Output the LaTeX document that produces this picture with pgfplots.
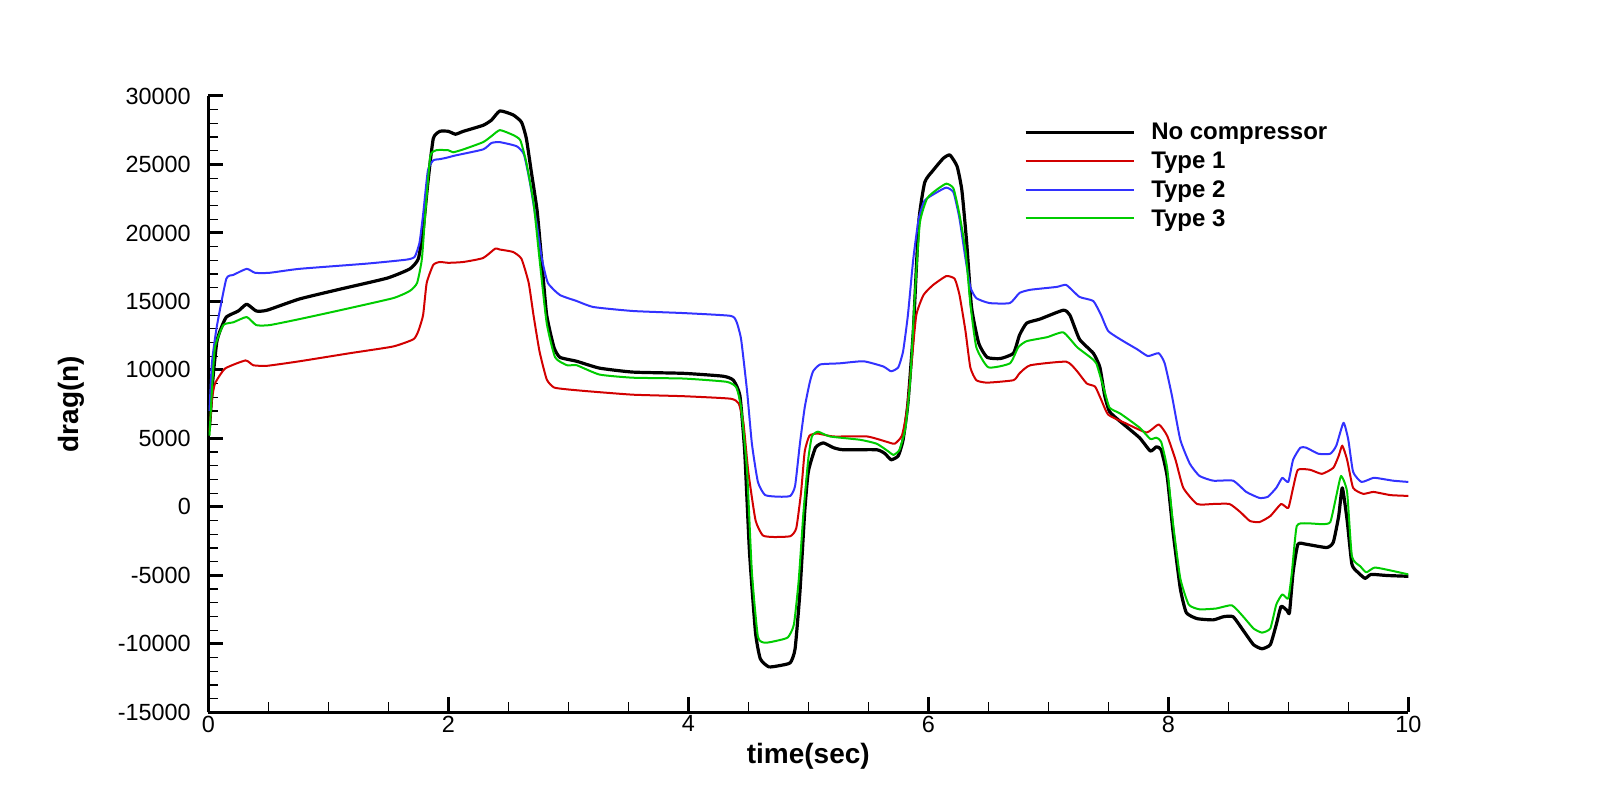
\documentclass[border=0pt]{standalone}
\usepackage{fontspec}
\setmainfont{Liberation Sans}
\usepackage{pgfplots}
\pgfplotsset{compat=1.18}
\definecolor{cred}{RGB}{210,0,0}
\definecolor{cblue}{RGB}{50,50,255}
\definecolor{cgreen}{RGB}{0,204,0}
\begin{document}
\begin{tikzpicture}
\path[use as bounding box] (-208.3pt,-88.7pt) rectangle (1392.7pt,712.3pt);
\begin{axis}[
  at={(0pt,0pt)}, anchor=south west,
  scale only axis, width=1200pt, height=616.3pt,
  xmin=0, xmax=10, ymin=-15000, ymax=30000,
  axis x line*=bottom, axis y line*=left,
  axis line style={line width=3pt},
  xtick={0,2,...,10}, ytick={-15000,-10000,...,30000},
  minor x tick num=3, minor y tick num=4,
  tick align=inside,
  major tick length=15pt, minor tick length=10pt,
  major tick style={line width=3pt, black},
  minor tick style={line width=1.2pt, black},
  scaled y ticks=false,
  /pgf/number format/1000 sep={},
  /pgf/number format/assume math mode=true,
  ticklabel style={font=\fontsize{23.4pt}{28pt}\selectfont},
  yticklabel style={xshift=-14pt},
  xlabel={time(sec)}, ylabel={drag(n)},
  xlabel style={font=\bfseries\fontsize{28pt}{34pt}\selectfont, at={(axis description cs:0.5,-0.0828)}, anchor=base},
  ylabel style={font=\bfseries\fontsize{28pt}{34pt}\selectfont, at={(axis description cs:-0.1083,0.5)}, anchor=base},
  legend style={draw=none, fill=none, at={(axis description cs:0.6798,0.9606)}, anchor=north west,
    inner sep=0pt, outer sep=0pt, row sep=4.6pt, column sep=13pt,
    font=\bfseries\fontsize{24pt}{28pt}\selectfont,
    nodes={inner sep=3pt}},
  legend cell align=left,
  legend image code/.code={\draw[#1] (0pt,0pt) -- (108pt,0pt);},
  line join=round,
  every axis plot/.append style={smooth, tension=0.3},
]
\addplot[black, line width=3.2pt] coordinates {
(0.01,5800)(0.04,9500)(0.07,12000)(0.097,12830)(0.15,13860)(0.25,14300)(0.32,14800)(0.40,14300)(0.49,14360)
(0.76,15180)(1.10,15900)(1.49,16700)(1.68,17380)(1.75,18110)(1.79,20170)(1.83,23690)(1.875,26900)
(1.93,27420)(2.0,27420)(2.06,27210)(2.125,27420)(2.29,27860)(2.36,28240)(2.43,28910)(2.54,28620)
(2.61,28090)(2.65,26920)(2.69,24570)(2.74,21630)(2.78,17820)(2.82,14000)(2.88,11660)(2.93,10920)
(3.07,10630)(3.26,10130)(3.54,9840)(3.96,9750)(4.29,9540)(4.375,9250)(4.43,8130)(4.47,4030)
(4.51,-3310)(4.56,-9180)(4.60,-11090)(4.67,-11680)(4.76,-11590)(4.85,-11380)(4.89,-10360)(4.93,-6250)
(4.97,-380)(5.0,2560)(5.06,4320)(5.125,4670)(5.21,4320)(5.29,4170)(5.57,4170)(5.64,3880)(5.69,3440)
(5.75,3730)(5.79,4900)(5.83,7540)(5.875,12830)(5.92,20750)(5.97,23690)(6.04,24570)(6.125,25450)
(6.18,25690)(6.24,24860)(6.28,23100)(6.32,19290)(6.36,14590)(6.42,11950)(6.49,10920)(6.60,10830)
(6.71,11220)(6.76,12540)(6.82,13420)(6.93,13710)(7.125,14360)(7.18,14000)(7.26,12240)(7.375,11220)
(7.43,10190)(7.47,8130)(7.51,6960)(7.6,6230)(7.76,5050)(7.85,4080)(7.90,4380)(7.94,4170)(7.99,2260)
(8.04,-1850)(8.10,-5960)(8.15,-7720)(8.24,-8160)(8.375,-8250)(8.46,-8020)(8.54,-8020)(8.625,-9030)
(8.71,-10060)(8.78,-10360)(8.85,-10060)(8.90,-8590)(8.94,-7270)(8.99,-7570)(9.01,-7720)(9.04,-4780)
(9.08,-2730)(9.15,-2730)(9.32,-2970)(9.375,-2580)(9.42,-670)(9.45,1390)(9.49,-960)(9.53,-4190)
(9.58,-4780)(9.64,-5220)(9.69,-4930)(9.82,-5010)(10,-5070)
};
\addlegendentry{No compressor}
\addplot[cred, line width=2pt] coordinates {
(0.01,5500)(0.03,7800)(0.056,9010)(0.14,10100)(0.31,10690)(0.375,10340)(0.49,10300)(0.76,10630)
(1.18,11220)(1.54,11710)(1.71,12240)(1.75,12830)(1.79,14000)(1.82,16350)(1.875,17670)(1.93,17880)
(2.0,17820)(2.125,17880)(2.29,18170)(2.39,18850)(2.43,18790)(2.54,18610)(2.61,18110)(2.67,16350)
(2.71,14000)(2.76,11360)(2.82,9310)(2.88,8720)(2.99,8580)(3.18,8430)(3.54,8190)(3.96,8080)(4.35,7900)
(4.42,7550)(4.46,6080)(4.50,2560)(4.56,-970)(4.62,-2080)(4.71,-2200)(4.85,-2140)(4.90,-1550)
(4.94,1090)(4.97,4030)(5.01,5200)(5.08,5350)(5.21,5140)(5.49,5140)(5.65,4760)(5.72,4610)(5.78,5200)
(5.82,6960)(5.86,10480)(5.90,14000)(5.96,15470)(6.04,16200)(6.15,16850)(6.22,16650)(6.26,15470)
(6.31,12830)(6.35,10190)(6.40,9250)(6.49,9070)(6.71,9250)(6.76,9750)(6.85,10340)(7.15,10600)
(7.24,9900)(7.32,9010)(7.39,8780)(7.44,7840)(7.5,6730)(7.65,6080)(7.82,5430)(7.92,6020)(7.99,5200)
(8.06,3440)(8.125,1390)(8.24,210)(8.375,210)(8.51,210)(8.60,-380)(8.68,-1030)(8.76,-1110)(8.85,-670)
(8.94,210)(9.0,-80)(9.04,1390)(9.08,2710)(9.18,2710)(9.28,2410)(9.375,2850)(9.42,3730)(9.45,4470)
(9.49,3440)(9.54,1390)(9.625,950)(9.71,1090)(9.85,860)(10,800)
};
\addlegendentry{Type 1}
\addplot[cblue, line width=2pt] coordinates {
(0.01,7000)(0.03,10500)(0.07,13120)(0.15,16650)(0.21,16940)(0.32,17380)(0.39,17090)(0.51,17090)
(0.76,17380)(1.32,17760)(1.65,18050)(1.72,18260)(1.76,19290)(1.79,21340)(1.83,24570)(1.875,25300)
(1.93,25390)(1.99,25500)(2.06,25660)(2.29,26100)(2.36,26570)(2.43,26630)(2.57,26330)(2.63,25740)
(2.68,23690)(2.74,20460)(2.78,18110)(2.83,16350)(2.93,15470)(3.07,15030)(3.21,14590)(3.54,14300)
(3.96,14150)(4.35,13950)(4.40,13560)(4.44,12240)(4.49,8430)(4.53,4610)(4.58,1820)(4.64,860)
(4.76,740)(4.85,800)(4.89,1530)(4.93,4610)(4.97,7250)(5.01,9010)(5.04,9900)(5.10,10400)(5.26,10480)
(5.46,10630)(5.625,10250)(5.69,9900)(5.75,10190)(5.79,11360)(5.83,14000)(5.875,18110)(5.92,21040)
(5.97,22370)(6.07,22960)(6.15,23310)(6.21,22960)(6.26,21040)(6.31,18110)(6.35,16060)(6.40,15240)
(6.51,14880)(6.68,14880)(6.76,15620)(6.85,15850)(7.07,16060)(7.15,16200)(7.26,15330)(7.375,15030)
(7.44,14000)(7.5,12830)(7.625,12100)(7.74,11510)(7.83,11010)(7.92,11220)(7.97,10480)(8.03,8130)
(8.10,4900)(8.18,3140)(8.26,2260)(8.375,1910)(8.54,1910)(8.65,1090)(8.76,650)(8.83,740)(8.90,1390)
(8.95,2120)(9.0,1820)(9.04,3440)(9.10,4320)(9.15,4320)(9.25,3880)(9.35,3880)(9.40,4470)(9.46,6140)
(9.5,4900)(9.54,2560)(9.61,1820)(9.71,2120)(9.79,2030)(9.875,1910)(10,1820)
};
\addlegendentry{Type 2}
\addplot[cgreen, line width=2pt] coordinates {
(0.01,5200)(0.03,8500)(0.056,11660)(0.125,13270)(0.21,13480)(0.32,13860)(0.40,13270)(0.51,13270)
(0.76,13710)(1.10,14360)(1.54,15240)(1.68,15770)(1.74,16350)(1.78,18110)(1.81,21630)(1.85,25600)
(1.90,26040)(2.0,26040)(2.04,25890)(2.125,26100)(2.29,26630)(2.36,27070)(2.43,27510)(2.54,27150)
(2.60,26770)(2.65,25160)(2.71,22220)(2.76,18110)(2.82,13420)(2.89,10920)(2.99,10340)(3.07,10340)
(3.26,9660)(3.54,9430)(3.96,9370)(4.32,9130)(4.40,8720)(4.44,7250)(4.49,2560)(4.53,-4780)(4.58,-9480)
(4.64,-9920)(4.74,-9770)(4.83,-9530)(4.88,-8590)(4.92,-5370)(4.96,-380)(5.0,3500)(5.03,5140)
(5.08,5490)(5.18,5140)(5.43,4900)(5.57,4610)(5.67,4030)(5.71,3790)(5.76,4170)(5.81,5790)(5.85,9310)
(5.89,15770)(5.93,20750)(5.99,22520)(6.07,23160)(6.15,23600)(6.21,23250)(6.26,21340)(6.31,18700)
(6.35,14880)(6.40,11660)(6.50,10190)(6.68,10480)(6.75,11660)(6.82,12100)(6.99,12390)(7.125,12740)
(7.24,11660)(7.35,10920)(7.40,10480)(7.46,8720)(7.51,7250)(7.60,6810)(7.76,5790)(7.85,4960)
(7.90,5050)(7.94,4760)(7.99,2850)(8.04,-1260)(8.10,-5220)(8.17,-7130)(8.26,-7480)(8.40,-7420)
(8.53,-7190)(8.625,-8020)(8.71,-8880)(8.78,-9180)(8.85,-8880)(8.90,-7130)(8.95,-6390)(9.0,-6690)
(9.03,-4780)(9.07,-1410)(9.15,-1200)(9.28,-1260)(9.35,-1110)(9.40,800)(9.44,2260)(9.49,1090)
(9.53,-3610)(9.60,-4340)(9.65,-4780)(9.72,-4430)(9.85,-4640)(10,-4930)
};
\addlegendentry{Type 3}
\end{axis}
\end{tikzpicture}
\end{document}
